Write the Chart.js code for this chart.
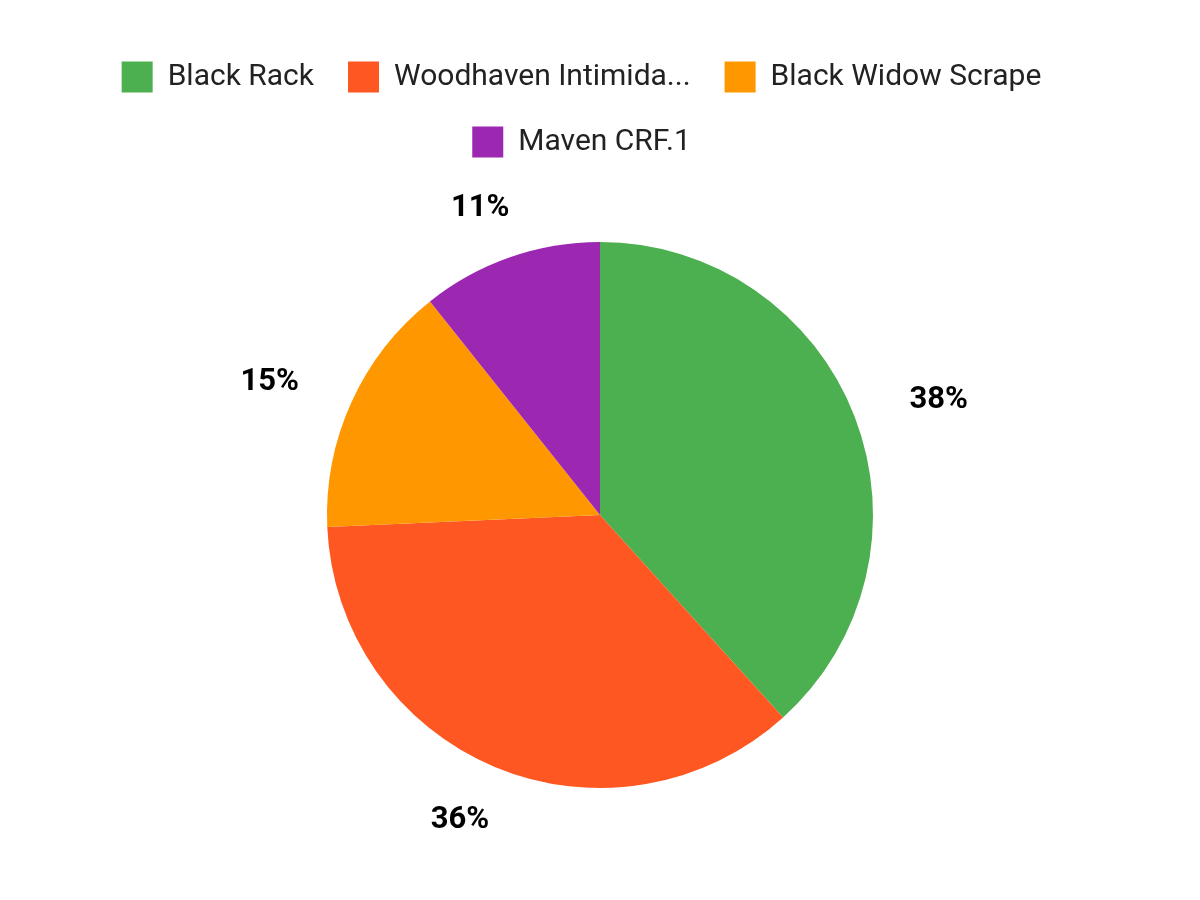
<!DOCTYPE html>
<html>
<head>
<meta charset="utf-8">
<script src="https://cdn.jsdelivr.net/npm/chart.js@4.4.1/dist/chart.umd.min.js"></script>
<style>
    html, body { margin: 0; padding: 0; background: #ffffff; }
    #wrap { width: 1200px; height: 900px; }
</style>
</head>
<body>
<div id="wrap"><canvas id="pieChart" width="1200" height="900"></canvas></div>
<script>
// Chart data
const categories = ['Black Rack', 'Woodhaven Intimida...', 'Black Widow Scrape', 'Maven CRF.1'];
const shares = [38.3, 36.0, 15.0, 10.7];
const sliceColors = ['#4CAF50', '#FF5722', '#FF9800', '#9C27B0'];

// Percent labels outside the slices (on a slightly wide ellipse around the pie)
const outsideLabels = {
    id: 'outsideLabels',
    afterDatasetsDraw(chart) {
        const { ctx } = chart;
        const meta = chart.getDatasetMeta(0);
        const total = shares.reduce((a, b) => a + b, 0);
        ctx.save();
        ctx.font = "bold 31px Roboto";
        ctx.fillStyle = '#000000';
        ctx.textAlign = 'center';
        ctx.textBaseline = 'middle';
        meta.data.forEach((arc, i) => {
            const { x, y, startAngle, endAngle, outerRadius } = arc.getProps(['x', 'y', 'startAngle', 'endAngle', 'outerRadius'], true);
            const mid = (startAngle + endAngle) / 2;
            const pct = Math.round(shares[i] / total * 100) + '%';
            ctx.fillText(pct, x + Math.cos(mid) * (outerRadius + 90), y + Math.sin(mid) * (outerRadius + 55) + 3);
        });
        ctx.restore();
    }
};

Chart.defaults.font.family = "Roboto, sans-serif";

new Chart(document.getElementById('pieChart').getContext('2d'), {
    type: 'pie',
    data: {
        labels: categories,
        datasets: [{
            data: shares,
            backgroundColor: sliceColors,
            borderWidth: 0,
            radius: 273
        }]
    },
    options: {
        responsive: false,
        animation: false,
        devicePixelRatio: 1,
        // right padding pulls the legend left; the blank left title keeps the pie centred
        layout: { padding: { top: 27.5, bottom: 37.5, left: 0, right: 37 } },
        plugins: {
            legend: {
                position: 'top',
                labels: {
                    boxWidth: 31,
                    boxHeight: 31,
                    padding: 34,
                    color: '#222222',
                    font: { size: 30 }
                }
            },
            title: {
                display: true,
                position: 'left',
                fullSize: false,
                text: ' ',
                font: { size: 10, lineHeight: 1 },
                padding: { top: 13.5, bottom: 13.5 }
            },
            tooltip: { enabled: false }
        }
    },
    plugins: [outsideLabels]
});
</script>
</body>
</html>
